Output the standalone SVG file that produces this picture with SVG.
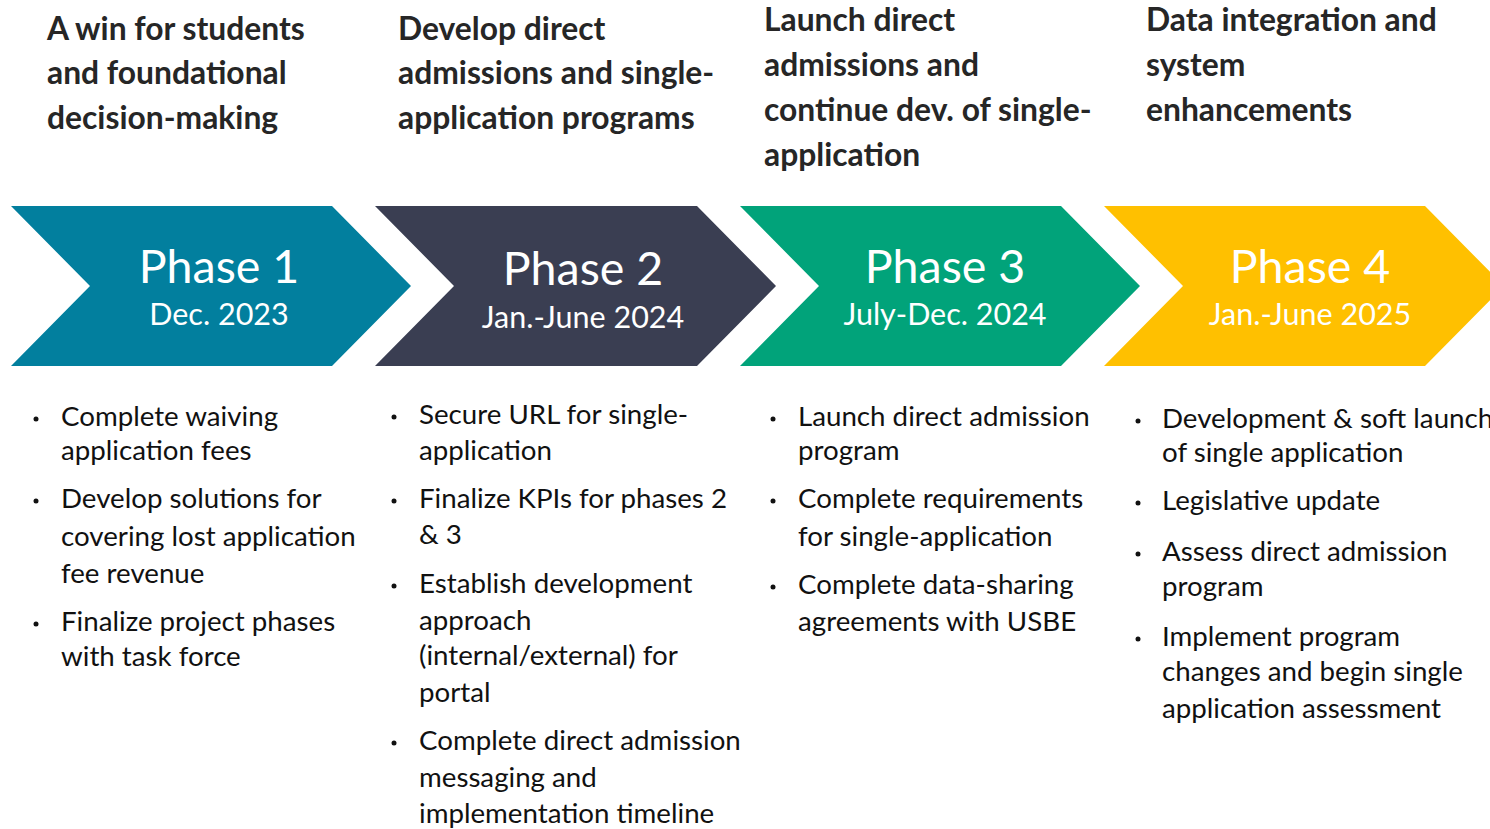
<svg xmlns="http://www.w3.org/2000/svg" width="1490" height="829" viewBox="0 0 1490 829">
<style>
.hd{font-family:Lato,"Open Sans",sans-serif;font-weight:bold;font-size:31.8px;fill:#262626}
.bt{font-family:Lato,"Open Sans",sans-serif;font-size:27.7px;fill:#111}
.ph{font-family:Lato,"Open Sans",sans-serif;font-size:46.5px;fill:#fff;text-anchor:middle}
.dt{font-family:Lato,"Open Sans",sans-serif;font-size:30.5px;fill:#fff;text-anchor:middle}
.dot{fill:#111}
</style>
<rect width="1490" height="829" fill="#fff"/>
<g id="headers">
<text class="hd" x="47" y="40">A win for students</text>
<text class="hd" x="47" y="84">and foundational</text>
<text class="hd" x="47" y="129">decision-making</text>
<text class="hd" x="398" y="40">Develop direct</text>
<text class="hd" x="398" y="84">admissions and single-</text>
<text class="hd" x="398" y="129">application programs</text>
<text class="hd" x="764" y="31">Launch direct</text>
<text class="hd" x="764" y="76">admissions and</text>
<text class="hd" x="764" y="121">continue dev. of single-</text>
<text class="hd" x="764" y="166">application</text>
<text class="hd" x="1146" y="31">Data integration and</text>
<text class="hd" x="1146" y="76">system</text>
<text class="hd" x="1146" y="121">enhancements</text>
</g>
<g id="phase1">
<polygon points="11,206 332,206 411,286 332,366 11,366 90,286" fill="#027F9E"/>
<text class="ph" x="219" y="283">Phase 1</text>
<text class="dt" x="219" y="325">Dec. 2023</text>
</g>
<g id="phase2">
<polygon points="375,206 697,206 776,286 697,366 375,366 454,286" fill="#3A3E52"/>
<text class="ph" x="583" y="285">Phase 2</text>
<text class="dt" x="583" y="328">Jan.-June 2024</text>
</g>
<g id="phase3">
<polygon points="740,206 1061,206 1140,286 1061,366 740,366 819,286" fill="#01A37A"/>
<text class="ph" x="945" y="283">Phase 3</text>
<text class="dt" x="945" y="325">July-Dec. 2024</text>
</g>
<g id="phase4">
<polygon points="1104,206 1425,206 1504,286 1425,366 1104,366 1183,286" fill="#FFC000"/>
<text class="ph" x="1310" y="283">Phase 4</text>
<text class="dt" x="1310" y="325">Jan.-June 2025</text>
</g>
<g id="list1">
<circle class="dot" cx="36" cy="419" r="2.5"/>
<circle class="dot" cx="36" cy="501" r="2.5"/>
<circle class="dot" cx="36" cy="624" r="2.5"/>
<text class="bt" x="61" y="426">Complete waiving</text>
<text class="bt" x="61" y="460">application fees</text>
<text class="bt" x="61" y="508">Develop solutions for</text>
<text class="bt" x="61" y="546">covering lost application</text>
<text class="bt" x="61" y="583">fee revenue</text>
<text class="bt" x="61" y="631">Finalize project phases</text>
<text class="bt" x="61" y="666">with task force</text>
</g>
<g id="list2">
<circle class="dot" cx="394" cy="417" r="2.5"/>
<circle class="dot" cx="394" cy="501" r="2.5"/>
<circle class="dot" cx="394" cy="586" r="2.5"/>
<circle class="dot" cx="394" cy="743" r="2.5"/>
<text class="bt" x="419" y="424">Secure URL for single-</text>
<text class="bt" x="419" y="460">application</text>
<text class="bt" x="419" y="508">Finalize KPIs for phases 2</text>
<text class="bt" x="419" y="544">&amp; 3</text>
<text class="bt" x="419" y="593">Establish development</text>
<text class="bt" x="419" y="630">approach</text>
<text class="bt" x="419" y="665">(internal/external) for</text>
<text class="bt" x="419" y="702">portal</text>
<text class="bt" x="419" y="750">Complete direct admission</text>
<text class="bt" x="419" y="787">messaging and</text>
<text class="bt" x="419" y="823">implementation timeline</text>
</g>
<g id="list3">
<circle class="dot" cx="773" cy="419" r="2.5"/>
<circle class="dot" cx="773" cy="501" r="2.5"/>
<circle class="dot" cx="773" cy="587" r="2.5"/>
<text class="bt" x="798" y="426">Launch direct admission</text>
<text class="bt" x="798" y="460">program</text>
<text class="bt" x="798" y="508">Complete requirements</text>
<text class="bt" x="798" y="546">for single-application</text>
<text class="bt" x="798" y="594">Complete data-sharing</text>
<text class="bt" x="798" y="631">agreements with USBE</text>
</g>
<g id="list4">
<circle class="dot" cx="1138" cy="421" r="2.5"/>
<circle class="dot" cx="1138" cy="503" r="2.5"/>
<circle class="dot" cx="1138" cy="554" r="2.5"/>
<circle class="dot" cx="1138" cy="639" r="2.5"/>
<text class="bt" x="1162" y="428">Development &amp; soft launch</text>
<text class="bt" x="1162" y="462">of single application</text>
<text class="bt" x="1162" y="510">Legislative update</text>
<text class="bt" x="1162" y="561">Assess direct admission</text>
<text class="bt" x="1162" y="596">program</text>
<text class="bt" x="1162" y="646">Implement program</text>
<text class="bt" x="1162" y="681">changes and begin single</text>
<text class="bt" x="1162" y="718">application assessment</text>
</g>
</svg>
